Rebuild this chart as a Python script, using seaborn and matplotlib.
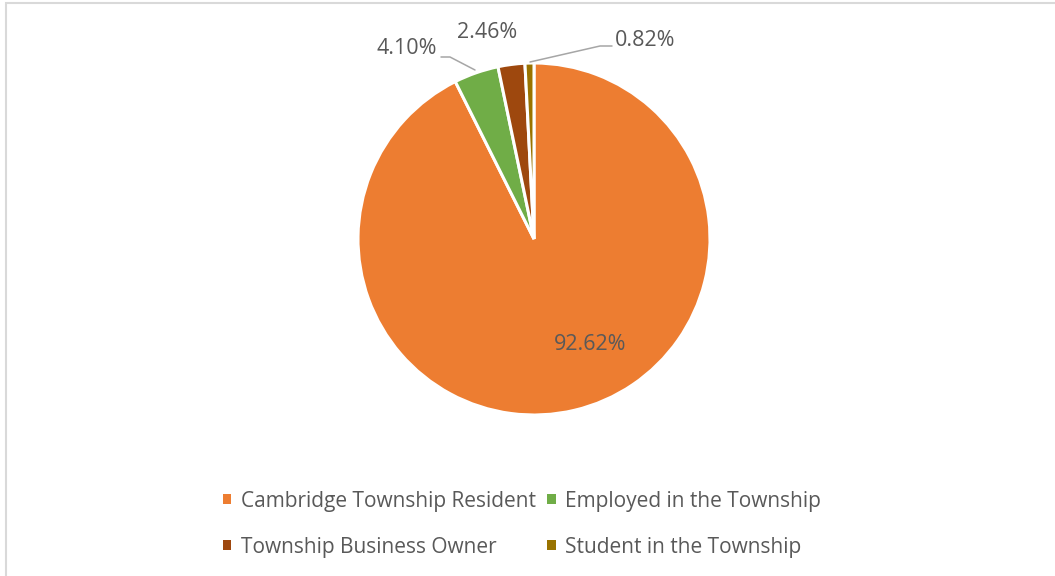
import matplotlib
matplotlib.use("Agg")
import matplotlib.pyplot as plt
from matplotlib.patches import Patch, Rectangle
import seaborn as sns

# Survey respondents by relationship to the township (percent)
categories = ["Cambridge Township Resident", "Employed in the Township",
              "Township Business Owner", "Student in the Township"]
shares = [92.62, 4.10, 2.46, 0.82]
slice_colors = ["#ED7D31", "#70AD47", "#9E480E", "#997300"]

sns.set_theme(style="white")
plt.rcParams["font.family"] = ["Open Sans", "DejaVu Sans"]
text_color = "#595959"

W, H = 1055, 576
fig = plt.figure(figsize=(W / 100, H / 100), dpi=100)

# light grey chart-area outline
fig.patches.append(Rectangle((5.5 / W, -0.1), 1.2, 1 - 2.5 / H + 0.1,
                             transform=fig.transFigure, fill=False,
                             edgecolor="#D9D9D9", linewidth=1.5))

cx, cy, r = 534, 239, 176
ax = fig.add_axes([(cx - r) / W, (H - cy - r) / H, 2 * r / W, 2 * r / H])
wedges, _ = ax.pie(shares, colors=slice_colors, startangle=90, counterclock=False,
                   wedgeprops=dict(edgecolor="white", linewidth=2.2))
ax.set_xlim(-1, 1)
ax.set_ylim(-1, 1)
ax.set_aspect("equal")
ax.axis("off")

def to_ax(px, py):
    return ((px - cx) / r, (cy - py) / r)

# data labels (percent text derived from the values)
label_pos = [(590, 345), (407, 49), (487, 33), (645, 40)]
for val, (px, py) in zip(shares, label_pos):
    x, y = to_ax(px, py)
    ax.text(x, y, f"{val:.2f}%", ha="center", va="center", fontsize=15.5,
            color=text_color, clip_on=False)

# leader lines for the small slices
leaders = [
    [(441, 57), (450, 57), (475, 70)],
    [(612, 46), (600, 46), (530, 62)],
]
for pts in leaders:
    xs, ys = zip(*[to_ax(px, py) for px, py in pts])
    ax.plot(xs, ys, color="#A6A6A6", linewidth=1.1, clip_on=False)

# legend: column-first fill gives Resident/Owner then Employed/Student
order = [0, 2, 1, 3]
handles = [Patch(facecolor=slice_colors[i], edgecolor="none") for i in order]
labels = [categories[i] for i in order]
fig.legend(handles, labels, loc="center", bbox_to_anchor=(522 / W, 1 - 524 / H),
           ncol=2, frameon=False, fontsize=15, labelcolor=text_color,
           handlelength=0.4, handleheight=0.4, handletextpad=0.45,
           columnspacing=0.55, labelspacing=1.2)

fig.savefig("out.png", dpi=100)
